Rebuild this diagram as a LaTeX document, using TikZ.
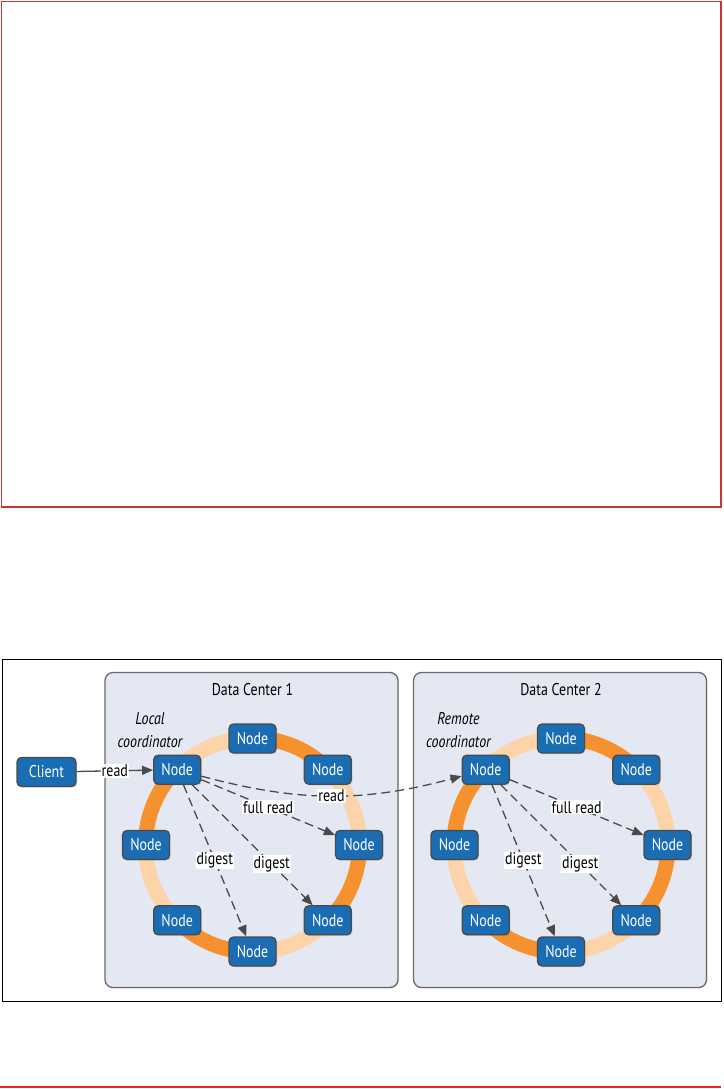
\documentclass[tikz,border=0pt]{standalone}
\usepackage{fontspec}
\setmainfont{PT Sans}[FakeStretch=0.82]
\usetikzlibrary{arrows.meta,shadows}
\definecolor{bluNodo}{HTML}{1B6DB3}
\definecolor{arancio}{HTML}{F5922F}
\definecolor{pesca}{HTML}{FDD4AA}
\definecolor{sfondoDC}{HTML}{E4E8F2}
\definecolor{bordoDC}{HTML}{6A6A6A}
\definecolor{freccia}{HTML}{4A4A4A}
\definecolor{rossoBordo}{HTML}{CC3333}
\definecolor{rossoLinea}{HTML}{EE2024}
\begin{document}
\begin{tikzpicture}[x=1pt,y=-1pt,font=\fontsize{17}{20}\selectfont,
  nodo/.style={draw=bordoDC!70!black, line width=1.3pt, fill=bluNodo, text=white,
    rounded corners=4.5pt, minimum width=47pt, minimum height=29pt, inner sep=1pt,
    drop shadow={opacity=0.25,shadow xshift=1.2pt,shadow yshift=-1.2pt}},
  dc/.style={draw=bordoDC, line width=1.3pt, fill=sfondoDC, rounded corners=8pt,
    drop shadow={opacity=0.2,shadow xshift=1pt,shadow yshift=-1pt}},
  etichetta/.style={fill=white, text=black, inner sep=1pt},
  tratteggio/.style={draw=freccia, line width=1.3pt, dash pattern=on 9pt off 5pt,
    -{Triangle[length=11pt,width=9pt]}},
  pieno/.style={draw=freccia, line width=1.3pt, -{Triangle[length=11pt,width=9pt]}}]

\useasboundingbox (0,0) rectangle (723,1089);
%cornice vuota
\draw[rossoBordo, line width=1.5pt] (1.5,1.5) rectangle (721,507);
%riquadro
\draw[line width=1pt] (2,659) rectangle (721,1001);
\draw[rossoLinea, line width=2pt] (0,1087) -- (721,1087);

%data center
\foreach \k/\cx/\ruolo in {1/252.5/Local,2/561/Remote}{
\node[dc, minimum width=293pt, minimum height=315pt] (dc\k) at (\cx-1,830) {};
\node (tit\k) at (\cx,690) {Data Center \k};
\node[align=center, font=\fontsize{17}{23}\selectfont\itshape] (ruolo\k) at (\cx-102.5,730) {\ruolo\\coordinator};
%anello
\draw[pesca, line width=15pt] (\cx,845) circle[radius=107];
\foreach \s in {0,90,180,270}
   {\draw[arancio, line width=15pt] ([shift={(\s:107)}]\cx,845) arc[start angle=\s, end angle=\s+45, radius=107];}
\foreach \a [count=\i] in {0,-45,...,-315}
   {\node[nodo] (n\k\i) at ([shift={(\a:106.5)}]\cx,845) {Node};}
}

%client
\node[nodo, minimum width=59pt] (cliente) at (46.5,772) {Client};
\draw[pieno] (cliente) -- node[etichetta]{read} (n14);
\draw[tratteggio] (n14) to[bend right=15] node[etichetta]{read} (n24);

\foreach \k in {1,2}{
\draw[tratteggio] (n\k4) -- node[etichetta]{full read} (n\k1);
\draw[tratteggio] (n\k4) -- node[etichetta, pos=0.66]{digest} (n\k8);
\draw[tratteggio] (n\k4) -- node[etichetta, pos=0.5]{digest} (n\k7);}

\end{tikzpicture}
\end{document}
